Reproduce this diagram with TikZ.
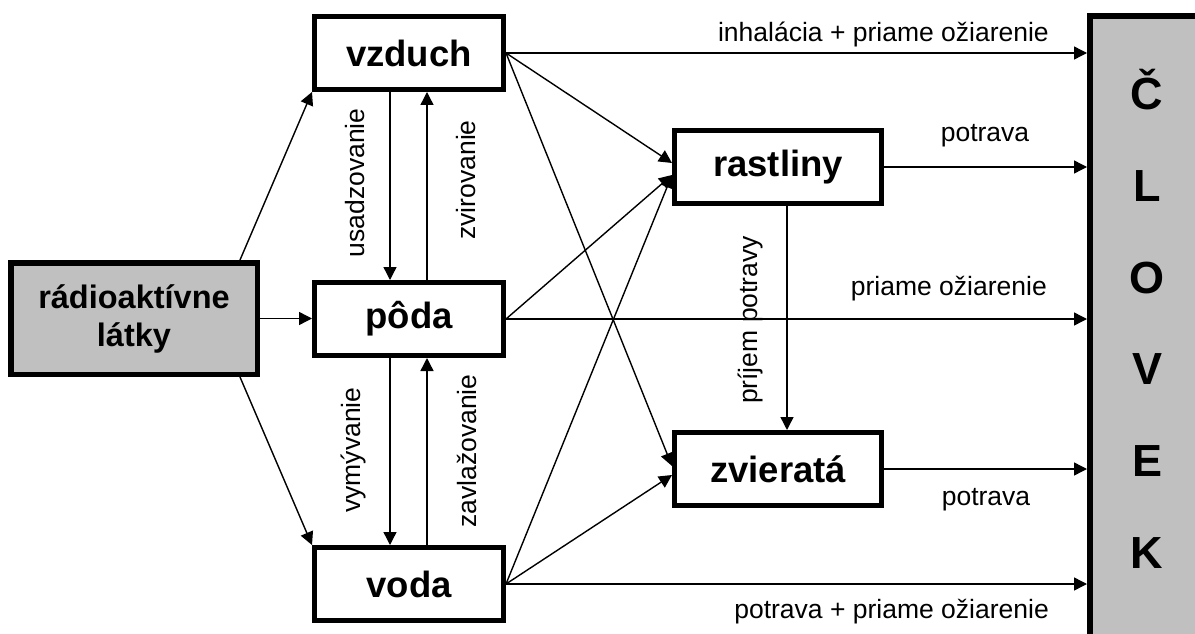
\documentclass[tikz,border=0pt]{standalone}
\usepackage{fontspec}
\setmainfont{Liberation Sans}
\usetikzlibrary{arrows.meta}
\definecolor{boxgray}{RGB}{192,192,192}
\begin{document}
\begin{tikzpicture}[x=1pt,y=-1pt,
  box/.style={draw, line width=5pt, fill=white, inner sep=0pt,
              font=\fontsize{36.5}{40}\selectfont\bfseries},
  midbox/.style={box, minimum width=189pt, minimum height=73pt},
  widebox/.style={box, minimum width=207pt, minimum height=73pt},
  conn/.style={line width=1.4pt, -{Triangle[length=13pt,width=13pt]}},
  lbl/.style={inner sep=0pt, font=\fontsize{26.5}{30}\selectfont},
  letter/.style={inner sep=0pt, font=\fontsize{45}{50}\selectfont\bfseries}]

\useasboundingbox (0,0) rectangle (1195,634);
\clip (0,0) rectangle (1195,634);

% source
\node[box, fill=boxgray, line width=5.5pt, minimum width=246.5pt, minimum height=111.5pt,
      align=center, font=\fontsize{32.5}{38}\selectfont\bfseries]
      (rad) at (134,318.5) {rádioaktívne\\látky};

% environment compartments
\node[midbox] (vzduch) at (409,53) {vzduch};
\node[midbox] (poda)   at (409,319) {pôda};
\node[midbox] (voda)   at (409,584) {voda};

% food chain
\node[widebox] (rastliny) at (778,167) {rastliny};
\node[widebox] (zvierata) at (778,469) {zvieratá};

% receiver
\node[draw, fill=boxgray, line width=6pt, inner sep=0pt,
      minimum width=125pt, minimum height=634pt] (clovek) at (1152.5,333) {};
\foreach \ch [count=\i] in {Č,L,O,V,E,K}
  \node[letter, anchor=base] (clovek-\i) at ({1147},{110+91.6*(\i-1)}) {\ch};

% source to compartments
\draw[conn] ([xshift=-20pt]rad.north east) -- (vzduch.south west);
\draw[conn] (rad.east) -- (rad.east -| poda.west);
\draw[conn] ([xshift=-20pt]rad.south east) -- (voda.north west);

% exchange between compartments
\draw[conn] ([xshift=-19pt]vzduch.south) -- ([xshift=-19pt]poda.north);
\draw[conn] ([xshift=18pt]poda.north) -- ([xshift=18pt]vzduch.south);
\draw[conn] ([xshift=-19pt]poda.south) -- ([xshift=-19pt]voda.north);
\draw[conn] ([xshift=18pt]voda.north) -- ([xshift=18pt]poda.south);

\node[lbl, rotate=90] (l-usad) at (355,183) {usadzovanie};
\node[lbl, rotate=90] (l-zvir) at (466,180) {zvirovanie};
\node[lbl, rotate=90] (l-vymy) at (353,450) {vymývanie};
\node[lbl, rotate=90] (l-zavl) at (467,451) {zavlažovanie};

% transfer into plants and animals
\draw[conn] (vzduch.east) -- ([yshift=4pt]rastliny.west);
\draw[conn] (poda.east) -- ([yshift=-8pt]rastliny.west);
\draw[conn] (voda.east) -- ([yshift=-8pt]rastliny.west);
\draw[conn] (vzduch.east) -- ([yshift=3pt]zvierata.west);
\draw[conn] (voda.east) -- ([yshift=-6pt]zvierata.west);
\draw[conn] ([xshift=9pt]rastliny.south) -- ([xshift=9pt]zvierata.north);
\node[lbl, rotate=90] (l-prij) at (750,320) {príjem potravy};

% exposure pathways
\draw[conn] (vzduch.east) -- (vzduch.east -| clovek.west);
\draw[conn] (rastliny.east) -- (rastliny.east -| clovek.west);
\draw[conn] (poda.east) -- (poda.east -| clovek.west);
\draw[conn] (zvierata.east) -- (zvierata.east -| clovek.west);
\draw[conn] (voda.east) -- (voda.east -| clovek.west);

\node[lbl, anchor=base east] (l-inh)   at (1049,42)  {inhalácia + priame ožiarenie};
\node[lbl, anchor=base]      (l-pot1)  at (985,141)  {potrava};
\node[lbl, anchor=base east] (l-pria)  at (1047,295) {priame ožiarenie};
\node[lbl, anchor=base]      (l-pot2)  at (986,505)  {potrava};
\node[lbl, anchor=base east] (l-potpr) at (1049,618) {potrava + priame ožiarenie};
\end{tikzpicture}
\end{document}
